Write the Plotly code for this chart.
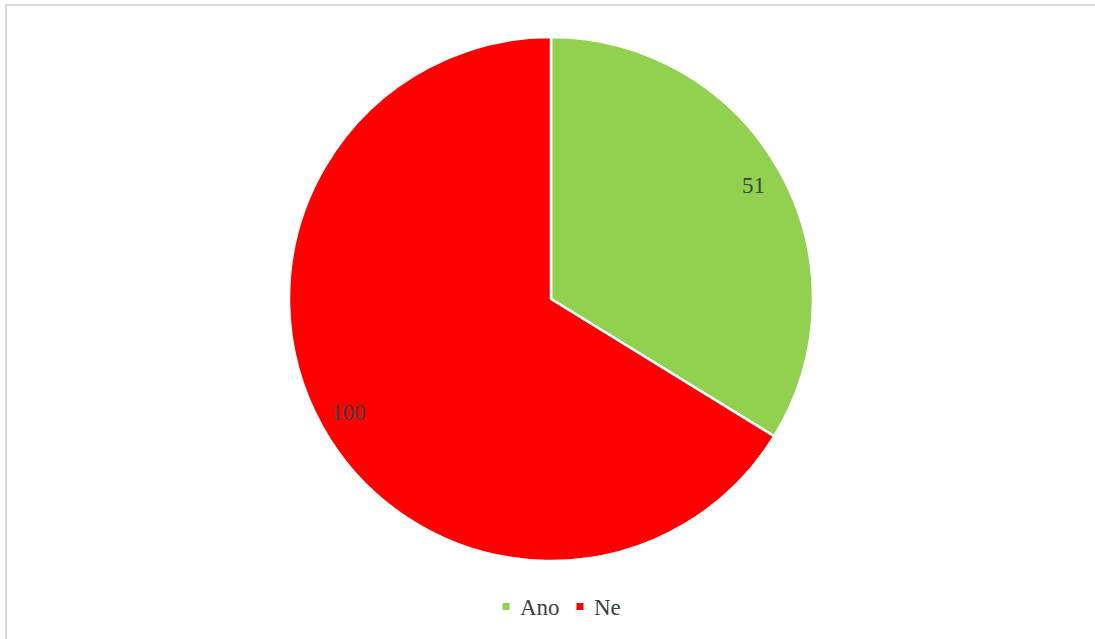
import math
import plotly.graph_objects as go

categories = ["Ano", "Ne"]
values = [51, 100]
colors = ["#92D050", "#FF0000"]

W, H = 1095, 639
cx, cy, R = 551, 299, 262
dom_x = [(cx - R) / W, (cx + R) / W]
dom_y = [1 - (cy + R) / H, 1 - (cy - R) / H]
FONT = "Liberation Serif"
TXT = "#404040"

fig = go.Figure()
fig.add_trace(go.Pie(
    labels=categories,
    values=values,
    marker=dict(colors=colors, line=dict(color="white", width=2.5)),
    sort=False,
    direction="clockwise",
    rotation=0,
    textinfo="none",
    hoverinfo="label+value",
    domain=dict(x=dom_x, y=dom_y),
    showlegend=False,
))

# value labels near the outer edge of each slice
total = sum(values)
cum = 0
label_frac = 0.885
for v in values:
    mid = (cum + v / 2) / total * 2 * math.pi
    cum += v
    px = cx + R * label_frac * math.sin(mid)
    py = cy - R * label_frac * math.cos(mid)
    fig.add_annotation(
        x=px / W, y=1 - py / H, xref="paper", yref="paper",
        text=str(v), showarrow=False,
        font=dict(family=FONT, size=23, color=TXT),
        xanchor="center", yanchor="middle",
    )

# legend at bottom (small square + label)
leg_y = 606.5
leg_x0 = 502.5
item_step = [74, 0]
sq = 7
x = leg_x0
for name, col, step in zip(categories, colors, item_step):
    fig.add_shape(type="rect", xref="paper", yref="paper",
                  x0=x / W, x1=(x + sq) / W,
                  y0=1 - (leg_y + sq / 2) / H, y1=1 - (leg_y - sq / 2) / H,
                  line=dict(width=0), fillcolor=col)
    fig.add_annotation(
        x=(x + sq + 9) / W, y=1 - (leg_y + 1) / H, xref="paper", yref="paper",
        text=name, showarrow=False,
        font=dict(family=FONT, size=23, color=TXT),
        xanchor="left", yanchor="middle", xshift=-1,
    )
    x += step

fig.add_shape(type="rect", xref="paper", yref="paper",
              x0=6 / W, y0=-0.01, x1=1.01, y1=1 - 5 / H,
              line=dict(color="#D9D9D9", width=2), fillcolor="rgba(0,0,0,0)")

fig.update_layout(
    width=W, height=H,
    margin=dict(l=0, r=0, t=0, b=0),
    paper_bgcolor="white",
    plot_bgcolor="white",
    showlegend=False,
)

fig.write_html(
    "out.html",
    config={"displayModeBar": False},
    post_script="document.body.style.margin='0';document.body.style.overflow='hidden';",
)
